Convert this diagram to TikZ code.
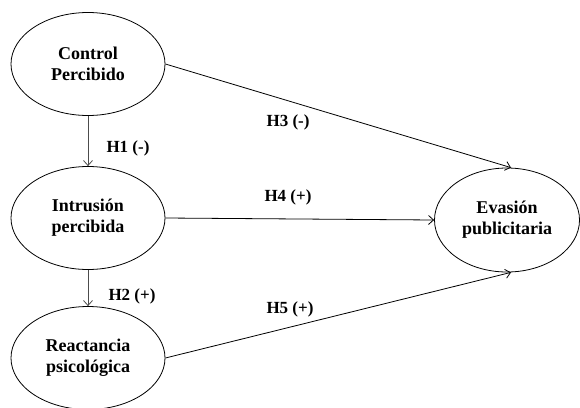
\documentclass[tikz,border=0pt]{standalone}
\usepackage{fontspec}
\setmainfont{Liberation Serif}
\usetikzlibrary{shapes.geometric,arrows.meta}

\begin{document}
\begin{tikzpicture}
		[
			x=1pt, y=-1pt,
			var/.style = {ellipse, align=center, draw=black, fill=none, inner sep=0pt,
				minimum width=154pt, minimum height=103pt, line width=0.8pt,
				font=\fontsize{18}{21}\selectfont\bfseries},
			hyp/.style = {font=\fontsize{17}{20}\selectfont\bfseries},
			link/.style = {-{Straight Barb[length=5pt,width=9pt]}, line width=0.8pt},
		]

		\useasboundingbox (0,0) rectangle (580,407);

		% constructs
		\node[var] (cp) 	at (  88,  64 ) {Control\\Percibido};
		\node[var] (ip) 	at (  88, 218 ) {Intrusión\\percibida};
		\node[var] (rp) 	at (  88, 358 ) {Reactancia\\psicológica};
		\node[var, minimum width=145pt, minimum height=104pt] (ep) 	at ( 507, 220 ) {Evasión\\publicitaria};

		% hypotheses
		\node[hyp] (h1) 	at ( 128, 148 ) {H1 (-)};
		\node[hyp] (h2) 	at ( 132, 296 ) {H2 (+)};
		\node[hyp] (h3) 	at ( 288, 122 ) {H3 (-)};
		\node[hyp] (h4) 	at ( 288, 197 ) {H4 (+)};
		\node[hyp] (h5) 	at ( 290, 309 ) {H5 (+)};

		\draw[link, draw=black!70] (cp) -- (ip);
		\draw[link, draw=black!70] (ip) -- (rp);
		\draw[link] (cp.east) -- ([xshift=4pt]ep.north);
		\draw[link] (ip.east) -- (ep.west);
		\draw[link] (rp.east) -- ([xshift=4pt]ep.south);

		\end{tikzpicture}
\end{document}
